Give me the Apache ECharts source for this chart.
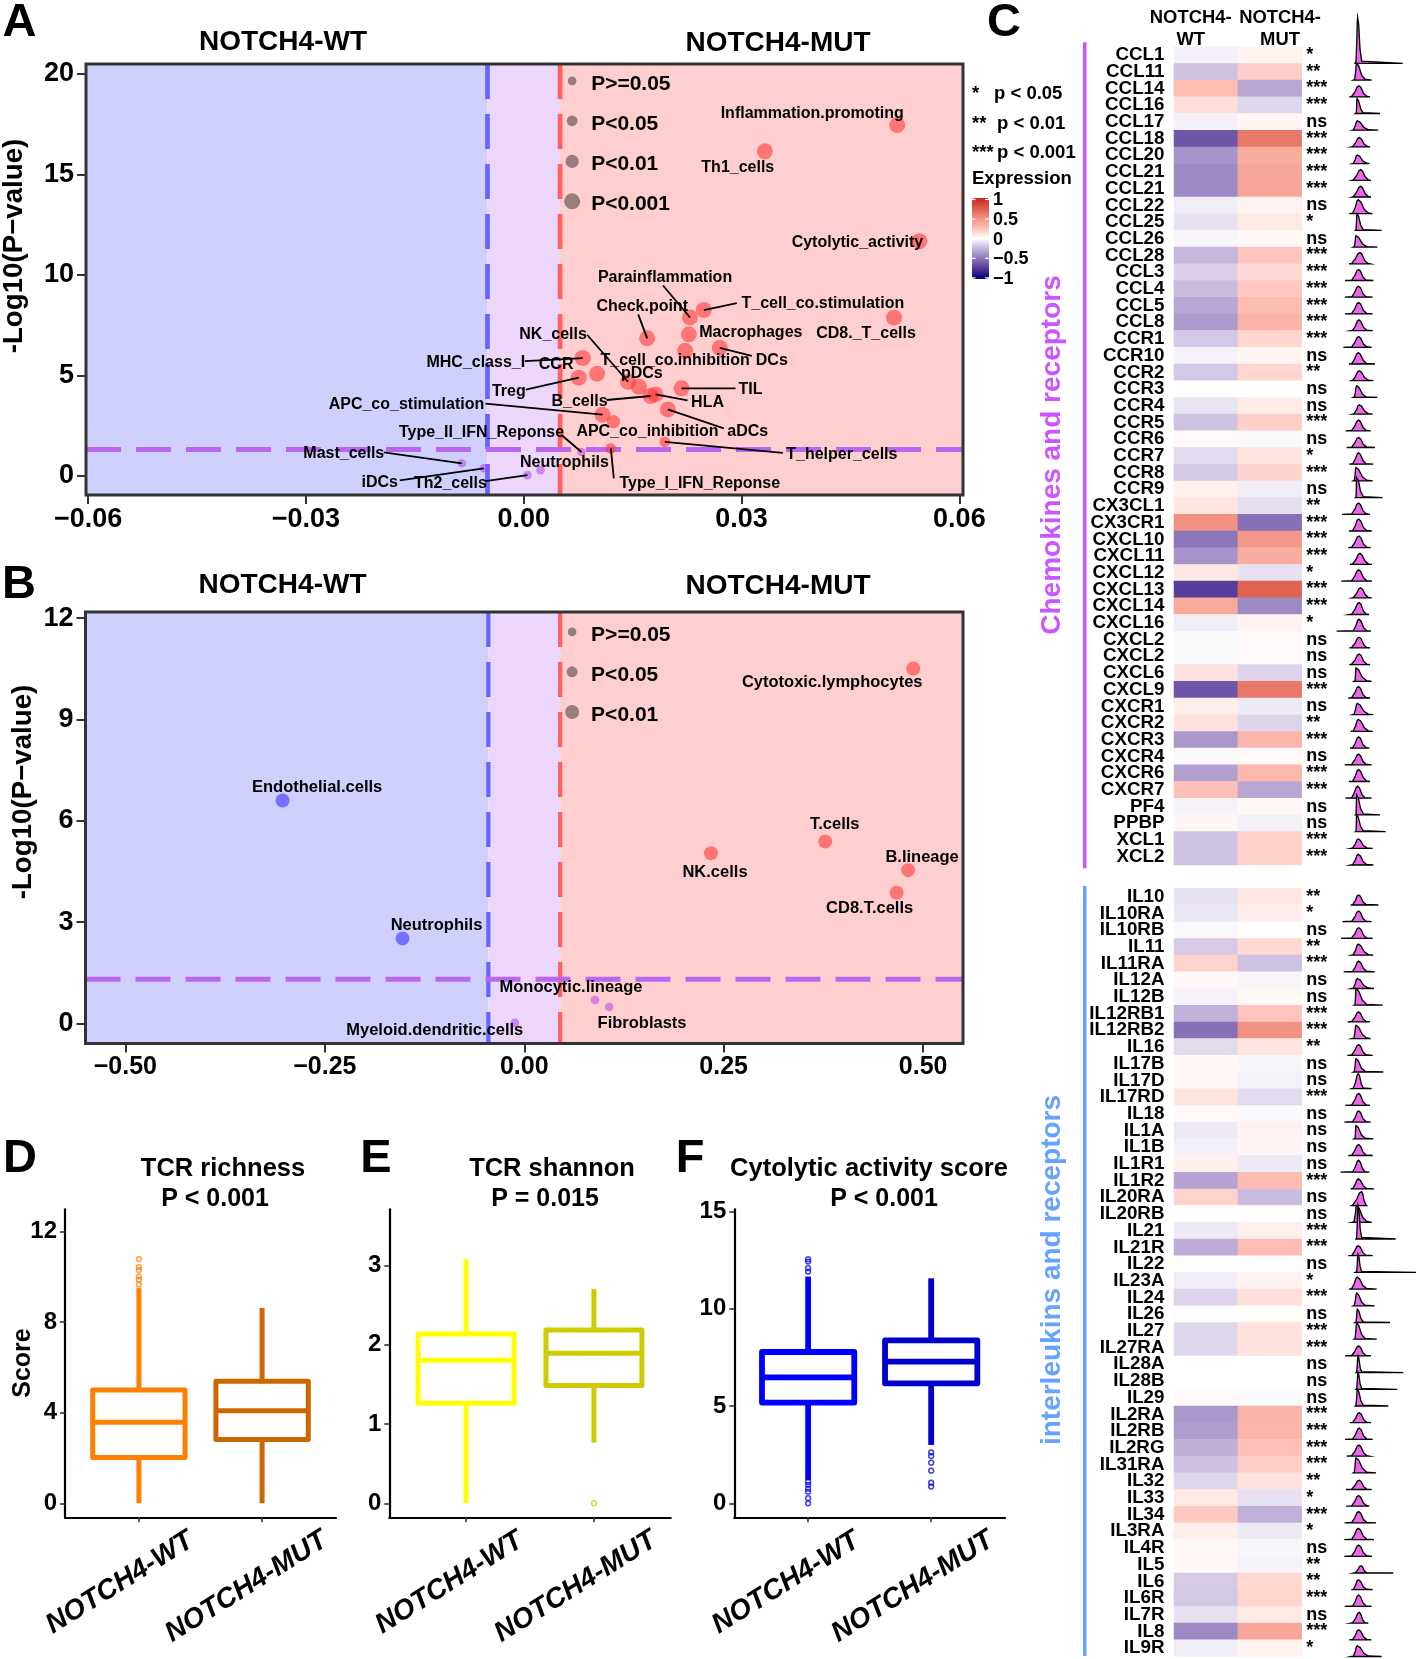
<!DOCTYPE html>
<html><head><meta charset="utf-8">
<style>html,body{margin:0;padding:0;background:#fff}#c{width:1418px;height:1659px}</style>
<script src="https://cdn.jsdelivr.net/npm/echarts@6/dist/echarts.min.js"></script>
</head><body><div id="c"></div>
<script>
// ---------- Panel A ----------
const namesA=['Inflammation.promoting','Th1_cells','Cytolytic_activity','T_cell_co.stimulation','Parainflammation','CD8._T_cells','Macrophages','Check.point','T_cell_co.inhibition','DCs','MHC_class_I','CCR','Treg','NK_cells','pDCs','TIL','HLA','B_cells','aDCs','APC_co_stimulation','APC_co_inhibition','T_helper_cells','Type_I_IFN_Reponse','Type_II_IFN_Reponse','Neutrophils','Th2_cells','Mast_cells','iDCs'];
const xA=[0.05144,0.0332,0.0545,0.0248,0.0229,0.0510,0.02274,0.0170,0.02223,0.0270,0.00813,0.0101,0.00758,0.01437,0.01585,0.02173,0.01815,0.01746,0.01984,0.01084,0.01236,0.01943,0.01199,0.00795,0.0023,0.0005,-0.00854,-0.00551];
const yA=[17.46,16.15,11.68,8.25,7.88,7.87,7.04,6.84,6.22,6.37,5.86,5.08,4.88,4.68,4.43,4.35,4.05,3.97,3.3,3.04,2.69,1.69,1.36,1.18,0.28,0.03,0.62,0.37];
const legendNamesA=['P>=0.05','P<0.05','P<0.01','P<0.001'];
const legendYA=[19.66,17.67,15.65,13.66];
const legendXA=0.00666;
// ---------- Panel B ----------
const namesB=['Cytotoxic.lymphocytes','Endothelial.cells','T.cells','NK.cells','B.lineage','CD8.T.cells','Neutrophils','Monocytic.lineage','Fibroblasts','Myeloid.dendritic.cells'];
const xB=[0.4876,-0.3029,0.3773,0.2341,0.4812,0.4668,-0.1526,0.0887,0.1063,-0.0119];
const yB=[10.51,6.60,5.39,5.04,4.54,3.87,2.52,0.70,0.49,0.02];
const legendNamesB=['P>=0.05','P<0.05','P<0.01'];
const legendYB=[11.59,10.41,9.22];
const legendXB=0.06;
// ---------- Panel C ----------
const genesChem=['CCL1','CCL11','CCL14','CCL16','CCL17','CCL18','CCL20','CCL21','CCL21','CCL22','CCL25','CCL26','CCL28','CCL3','CCL4','CCL5','CCL8','CCR1','CCR10','CCR2','CCR3','CCR4','CCR5','CCR6','CCR7','CCR8','CCR9','CX3CL1','CX3CR1','CXCL10','CXCL11','CXCL12','CXCL13','CXCL14','CXCL16','CXCL2','CXCL2','CXCL6','CXCL9','CXCR1','CXCR2','CXCR3','CXCR4','CXCR6','CXCR7','PF4','PPBP','XCL1','XCL2'];
const wtChem=[-.05,-.2,.27,.13,-.05,-.62,-.38,-.42,-.42,-.06,-.1,-.03,-.24,-.15,-.22,-.3,-.35,-.18,-.04,-.18,0,-.09,-.2,.02,-.12,-.18,.06,.11,.5,-.5,-.38,.1,-.72,.38,-.06,-.02,-.02,.12,-.62,.07,.12,-.36,-.02,-.33,.26,-.04,.04,-.2,-.2];
const mutChem=[.05,.2,-.3,-.13,.04,.62,.36,.4,.4,.05,.09,.03,.24,.15,.22,.28,.33,.17,.04,.17,0,.08,.2,-.02,.11,.18,-.06,-.11,-.52,.47,.36,-.1,.72,-.42,.05,.02,.02,-.14,.62,-.07,-.14,.32,.02,.3,-.3,.03,-.05,.19,.19];
const sigChem=['*','**','***','***','ns','***','***','***','***','ns','*','ns','***','***','***','***','***','***','ns','**','ns','ns','***','ns','*','***','ns','**','***','***','***','*','***','***','*','ns','ns','ns','***','ns','**','***','ns','***','***','ns','ns','***','***'];
const genesIL=['IL10','IL10RA','IL10RB','IL11','IL11RA','IL12A','IL12B','IL12RB1','IL12RB2','IL16','IL17B','IL17D','IL17RD','IL18','IL1A','IL1B','IL1R1','IL1R2','IL20RA','IL20RB','IL21','IL21R','IL22','IL23A','IL24','IL26','IL27','IL27RA','IL28A','IL28B','IL29','IL2RA','IL2RB','IL2RG','IL31RA','IL32','IL33','IL34','IL3RA','IL4R','IL5','IL6','IL6R','IL7R','IL8','IL9R'];
const wtIL=[-.1,-.08,-.02,-.17,.18,.03,-.04,-.26,-.52,-.12,.03,.03,.11,.02,-.07,-.05,.06,-.31,.18,0,-.07,-.28,.01,-.06,-.14,-.01,-.13,-.13,0,0,.02,-.36,-.34,-.27,-.21,-.13,.09,.22,.07,.03,.03,-.17,-.18,-.1,-.42,-.06];
const mutIL=[.1,.07,.01,.16,-.2,-.03,.03,.24,.5,.11,-.03,-.04,-.12,-.02,.05,.04,-.07,.28,-.22,0,.06,.27,-.01,.05,.13,.01,.12,.12,0,0,-.02,.33,.32,.26,.2,.12,-.1,-.26,-.07,-.03,-.04,.16,.17,.09,.4,.05];
const sigIL=['**','*','ns','**','***','ns','ns','***','***','**','ns','ns','***','ns','ns','ns','ns','***','ns','ns','***','***','ns','*','***','ns','***','***','ns','ns','ns','***','***','***','***','**','*','***','*','ns','**','**','***','ns','***','*'];
// ridge outline per gene: left tail, rise, peak, fall, right tail, height
const ridgeChem=[[1065,1068,1073,1085,1208,138],[1060,1064,1070,1095,1115,50],[1048,1055,1077,1100,1110,33],[1066,1069,1071,1090,1140,45],[1057,1060,1072,1105,1135,28],[1054,1058,1078,1102,1110,28],[1057,1060,1072,1100,1108,26],[1056,1060,1082,1105,1113,32],[1056,1060,1082,1105,1113,32],[1048,1058,1075,1105,1117,42],[1066,1068,1071,1090,1145,50],[1060,1063,1068,1100,1132,34],[1047,1055,1080,1103,1110,34],[1035,1055,1076,1098,1120,33],[1035,1055,1076,1098,1118,33],[1035,1055,1076,1100,1118,34],[1052,1058,1077,1100,1118,32],[1030,1055,1076,1100,1115,32],[1047,1055,1075,1100,1125,34],[1049,1058,1078,1105,1120,30],[1060,1063,1070,1098,1132,35],[1058,1062,1078,1105,1118,28],[1037,1055,1076,1098,1112,32],[1040,1055,1076,1100,1125,30],[1048,1058,1076,1098,1120,34],[1060,1063,1068,1100,1118,40],[1066,1068,1070,1090,1148,60],[1026,1055,1076,1098,1110,34],[1047,1058,1076,1100,1115,36],[1045,1055,1077,1100,1112,35],[1050,1058,1080,1105,1116,33],[1024,1055,1076,1100,1116,34],[1056,1060,1082,1105,1115,30],[1048,1055,1078,1098,1107,36],[1010,1060,1077,1100,1113,36],[1048,1055,1078,1100,1110,32],[1048,1055,1078,1100,1110,32],[1062,1065,1068,1100,1115,40],[1045,1055,1076,1098,1110,34],[1058,1062,1072,1105,1120,34],[1052,1060,1075,1105,1118,36],[1050,1058,1076,1098,1108,34],[1034,1055,1076,1098,1115,32],[1047,1058,1076,1100,1110,36],[1036,1055,1073,1095,1115,36],[1066,1068,1070,1090,1140,60],[1066,1068,1070,1090,1157,50],[1053,1058,1075,1100,1118,28],[1052,1058,1075,1100,1120,32]];
const ridgeIL=[[1052,1058,1076,1098,1135,30],[1027,1055,1076,1098,1115,32],[1023,1055,1077,1100,1118,32],[1055,1060,1075,1105,1120,33],[1031,1058,1076,1100,1124,32],[1055,1060,1072,1105,1122,30],[1062,1065,1068,1100,1148,50],[1043,1055,1076,1098,1110,30],[1056,1062,1068,1100,1112,40],[1042,1055,1076,1098,1118,32],[1060,1063,1068,1095,1150,40],[1055,1060,1075,1090,1115,45],[1036,1055,1076,1098,1110,36],[1033,1058,1076,1098,1112,34],[1062,1065,1068,1095,1120,40],[1045,1055,1076,1098,1118,33],[1022,1058,1076,1095,1108,36],[1052,1058,1075,1100,1122,30],[1055,1058,1085,1098,1100,42],[1055,1062,1070,1100,1115,50],[1068,1070,1074,1085,1187,100],[1045,1055,1075,1098,1118,30],[1066,1070,1074,1085,1248,55],[1047,1055,1072,1100,1130,36],[1060,1063,1070,1095,1124,38],[1065,1068,1072,1090,1170,40],[1062,1065,1070,1095,1130,48],[1035,1055,1076,1098,1113,30],[1068,1070,1074,1085,1210,50],[1068,1070,1074,1085,1192,50],[1066,1068,1072,1090,1165,50],[1050,1058,1078,1100,1113,30],[1035,1058,1078,1100,1118,34],[1040,1055,1077,1100,1108,33],[1060,1063,1068,1100,1128,45],[1038,1055,1078,1100,1115,28],[1038,1055,1076,1100,1108,32],[1034,1055,1076,1100,1128,34],[1033,1055,1075,1100,1122,34],[1033,1055,1076,1100,1116,34],[1062,1066,1083,1100,1180,22],[1054,1060,1075,1100,1118,30],[1034,1058,1076,1098,1115,34],[1052,1058,1078,1095,1105,32],[1048,1058,1076,1100,1114,30],[1054,1060,1072,1105,1145,32]];
const colLabels=['NOTCH4-WT','NOTCH4-MUT'];
const legendTicks=[1,0.5,0,-0.5,-1];
// ---------- Panels D-F: [low, Q1, median, Q3, high] ----------
const boxGroups=[1,2];
const statsD=[[0,2.02,3.58,5.0,9.5],[0,2.81,4.09,5.39,8.62]];
const outD=[[1,10.78],[1,10.43],[1,10.3],[1,10.01],[1,9.87],[1,9.65]];
const statsE=[[0,1.262,1.805,2.137,3.08],[0.766,1.485,1.893,2.188,2.705]];
const outE=[[2,0]];
const statsF=[[1.2,5.18,6.48,7.78,11.66],[3.0,6.17,7.29,8.38,11.57]];
const outF=[[1,12.55],[1,12.43],[1,12.09],[1,11.91],[1,1.1],[1,0.95],[1,0.75],[1,0.6],[1,0.26],[1,0],[2,2.62],[2,2.43],[2,2.09],[2,1.68],[2,1.06],[2,0.86]];

// ---------- annotation layout: pixel offsets from each point ----------
const textOffA=[[-85,-12],[-27,15],[-62,0],[119,-7],[-25,-41],[-28,15],[62,-3],[-5,-33],[-10,9],[52,12],[-107,4],[-41,-10],[-70,13],[-75,-48],[3,-14],[69,0],[52,7],[-71,5],[80,21],[-196,-11],[34,9],[177,12],[89,34],[-100,-20],[24,-9],[-77,7],[-118,-11],[-104,13]];
const leaderA=[null,null,null,[33,-7],[-27,-32],null,null,[-9,-24],null,[32,8],[-58,3],null,[-53,12],[-41,-47],null,[54,0],[32,6],[-44,4],[56,19],[-117,-11],null,[118,11],[3,30],[-20,-17],null,[-42,6],[-78,-11],[-84,12]];
const textOffB=[[-81,13],[34.5,-14],[9.5,-18],[4,18],[14,-13.5],[-27,15],[34,-13.5],[-24,-13.5],[33,15],[-80,7]];

const FF='"Liberation Sans",Arial,sans-serif';
const font=(s,i)=>`${i?'italic ':''}bold ${s}px ${FF}`;
const series=[],grids=[],xAxes=[],yAxes=[],gfx=[];
const T=(text,x,y,size,o={})=>gfx.push({type:'text',x,y,rotation:o.rot||0,z:50,silent:true,style:{text,font:font(size,o.italic),fill:o.fill||'#000',align:o.align||'center',verticalAlign:'middle'}});
const BLUE='rgba(50,50,255,.74)',RED='rgba(255,55,55,.74)',PUR='rgba(180,60,235,.66)';

function addVolcano(cfg){
  const g=grids.length,yi=yAxes.length,xi=xAxes.length;
  grids.push({left:cfg.left,top:cfg.top,width:cfg.w,height:cfg.h,show:false});
  xAxes.push({gridIndex:g,type:'value',min:cfg.xr[0],max:cfg.xr[1],splitLine:{show:false},
    axisLine:{show:false,onZero:false},axisTick:{show:true,length:9,lineStyle:{width:2,color:'#333'},customValues:cfg.xt},
    axisLabel:{customValues:cfg.xt,margin:11,fontFamily:FF,fontWeight:'bold',fontSize:cfg.xfs,color:'#000',hideOverlap:false,showMinLabel:true,showMaxLabel:true,
      formatter:v=>(v<0?'\u2212':'')+Math.abs(v).toFixed(cfg.xd)}});
  yAxes.push({gridIndex:g,type:'value',min:cfg.yr[0],max:cfg.yr[1],splitLine:{show:false},
    axisLine:{show:false,onZero:false},axisTick:{show:true,length:9,lineStyle:{width:2,color:'#333'},customValues:cfg.yt},
    axisLabel:{customValues:cfg.yt,margin:12,padding:[3,0,0,0],fontFamily:FF,fontWeight:'bold',fontSize:27,color:'#000',showMinLabel:true,showMaxLabel:true}});
  const [x0,x1]=cfg.xr,[y0,y1]=cfg.yr,t=cfg.thr;
  const base={xAxisIndex:xi,yAxisIndex:yi,silent:true,animation:false};
  series.push({...base,type:'scatter',data:[],z:1,markArea:{silent:true,itemStyle:{opacity:1},data:[
    [{coord:[x0,y0],itemStyle:{color:'#D0D0FE'}},{coord:[-t,y1]}],
    [{coord:[-t,y0],itemStyle:{color:'#ECD6FB'}},{coord:[t,y1]}],
    [{coord:[t,y0],itemStyle:{color:'#FFCFCF'}},{coord:[x1,y1]}]]}});
  const thr=(d,c,w)=>series.push({...base,type:'line',z:5,data:d,showSymbol:false,symbol:'none',lineStyle:{color:c,width:w,type:[35,15],cap:'butt'}});
  thr([[-t,y1],[-t,y0]],'#6666FF',cfg.lw);
  thr([[t,y1],[t,y0]],'#FF6060',cfg.lw);
  thr([[x0,cfg.hl],[x1,cfg.hl]],'#BB66EE',5);
  const pts=cfg.names.map((n,i)=>[cfg.xs[i],cfg.ys[i]]);
  const sizeOf=y=>y<1.3?cfg.sz[0]:y<2?cfg.sz[1]:y<3||cfg.sz.length<4?cfg.sz[2]:cfg.sz[3];
  series.push({...base,type:'scatter',z:6,data:pts,symbolSize:v=>sizeOf(v[1]),
    itemStyle:{color:p=>p.value[1]<1.3?PUR:(p.value[0]<0?BLUE:RED)}});
  const legPts=cfg.legY.map(y=>[cfg.legX,y]);
  series.push({...base,type:'scatter',z:6,data:legPts,
    symbolSize:(v,p)=>cfg.sz[p.dataIndex],itemStyle:{color:'rgba(0,0,0,.5)'}});
  series.push({...base,type:'custom',z:7,clip:false,data:legPts,renderItem:(params,api)=>{
    const p=api.coord([api.value(0),api.value(1)]);
    return {type:'text',x:p[0]+19,y:p[1]+3,style:{text:cfg.legN[params.dataIndex],font:font(21),fill:'#000',align:'left',verticalAlign:'middle'}};
  }});
  series.push({...base,type:'custom',z:7,clip:false,data:pts,renderItem:(params,api)=>{
    const i=params.dataIndex,p=api.coord([api.value(0),api.value(1)]),kids=[];
    const L=cfg.leader&&cfg.leader[i];
    if(L)kids.push({type:'line',shape:{x1:p[0],y1:p[1],x2:p[0]+L[0],y2:p[1]+L[1]},style:{stroke:'#000',lineWidth:1.8}});
    const o=cfg.off[i];
    kids.push({type:'text',x:p[0]+o[0],y:p[1]+o[1]+1,style:{text:cfg.names[i],font:font(cfg.fs),fill:'#000',align:'center',verticalAlign:'middle'}});
    return {type:'group',children:kids};
  }});
  gfx.push({type:'rect',z:40,silent:true,shape:{x:cfg.left,y:cfg.top,width:cfg.w,height:cfg.h},style:{fill:'none',stroke:'#333',lineWidth:3}});
}
addVolcano({left:86,top:64,w:877,h:431,xr:[-0.0603,0.0605],yr:[-0.96,20.5],xt:[-0.06,-0.03,0,0.03,0.06],yt:[0,5,10,15,20],xd:2,xfs:27,thr:0.005,hl:1.3,lw:4.7,
  names:namesA,xs:xA,ys:yA,legX:legendXA,legY:legendYA,legN:legendNamesA,sz:[8.7,10.7,13.3,16],off:textOffA,leader:leaderA,fs:16});
addVolcano({left:85.5,top:612,w:877.5,h:431.5,xr:[-0.55,0.55],yr:[-0.59,12.18],xt:[-0.5,-0.25,0,0.25,0.5],yt:[0,3,6,9,12],xd:2,xfs:25,thr:0.045,hl:1.31,lw:4.2,
  names:namesB,xs:xB,ys:yB,legX:legendXB,legY:legendYB,legN:legendNamesB,sz:[8.7,11,14],off:textOffB,leader:null,fs:16.5});

// ---- heat + ridge ----
const heatIdx=[];
function addHeat(top,h,genes,wt,mut,sig,ridge){
  const g=grids.length,xi=xAxes.length,y0=yAxes.length;
  grids.push({left:1174,top,width:127.7,height:h,show:false});
  xAxes.push({gridIndex:g,type:'category',data:colLabels,show:false});
  yAxes.push({gridIndex:g,type:'category',data:genes,inverse:true,axisLine:{show:false},axisTick:{show:false},splitLine:{show:false},
    axisLabel:{interval:0,margin:9.5,padding:[4,0,0,0],fontFamily:FF,fontWeight:'bold',fontSize:18.8,color:'#000'}});
  yAxes.push({gridIndex:g,type:'category',position:'right',data:sig,inverse:true,axisLine:{show:false},axisTick:{show:false},splitLine:{show:false},
    axisLabel:{interval:0,margin:4.5,padding:[3,0,0,0],fontFamily:FF,fontWeight:'bold',fontSize:18,color:'#000'}});
  const d=[];genes.forEach((n,i)=>{d.push([0,i,wt[i]]);d.push([1,i,mut[i]]);});
  heatIdx.push(series.length);
  series.push({type:'heatmap',xAxisIndex:xi,yAxisIndex:y0,data:d,silent:true,animation:false,progressive:0});
  const r=grids.length,xr=xAxes.length,y2=yAxes.length;
  grids.push({left:1000,top,width:418,height:h,show:false});
  xAxes.push({gridIndex:r,type:'value',min:0,max:1254,show:false});
  yAxes.push({gridIndex:r,type:'category',data:genes,inverse:true,show:false});
  series.push({type:'custom',xAxisIndex:xr,yAxisIndex:y2,clip:false,silent:true,animation:false,
    data:ridge.map((a,i)=>[a[0],i,a[1],a[2],a[3],a[4],a[5]]),
    encode:{x:0,y:1},
    renderItem:(params,api)=>{
      const i=params.dataIndex,v=k=>api.value(k);
      const band=api.size([0,1])[1];
      const base=api.coord([0,i])[1]+band/2;
      const X=u=>api.coord([u,i])[0];
      const hp=api.size([v(6),0])[0];
      const L=v(0),R1=v(2),P=v(3),F=v(4),E=v(5);
      const up=R1+.45*(P-R1),up2=R1+.75*(P-R1),dn=P+.25*(F-P),dn2=P+.6*(F-P);
      const pts=[[X(L),base],[X(R1),base-.04*hp],[X(up),base-.45*hp],[X(up2),base-.9*hp],[X(P),base-hp],[X(dn),base-.85*hp],[X(dn2),base-.3*hp],[X(F),base-.05*hp],[X(E),base]];
      return {type:'polygon',shape:{points:pts},style:{fill:'#EE66EE',stroke:'#000',lineWidth:1.3}};
    }});
}
addHeat(46.7,818.3,genesChem,wtChem,mutChem,sigChem,ridgeChem);
addHeat(888.3,768.2,genesIL,wtIL,mutIL,sigIL,ridgeIL);

// ---- boxes ----
function addBox(cfg){
  const g=grids.length,xi=xAxes.length,yi=yAxes.length;
  grids.push({left:cfg.left,top:1209.3,width:cfg.w,height:308,show:false});
  xAxes.push({gridIndex:g,type:'value',min:0.4,max:2.6,splitLine:{show:false},
    axisLine:{show:true,onZero:false,lineStyle:{color:'#000',width:2.2}},
    axisTick:{show:true,length:5,lineStyle:{color:'#333',width:1.6},customValues:boxGroups},
    axisLabel:{show:false}});
  yAxes.push({gridIndex:g,type:'value',min:cfg.yr[0],max:cfg.yr[1],splitLine:{show:false},
    axisLine:{show:true,onZero:false,lineStyle:{color:'#000',width:2.2}},
    axisTick:{show:true,length:5,lineStyle:{color:'#333',width:1.6},customValues:cfg.yt},
    axisLabel:{customValues:cfg.yt,margin:8,padding:[3,0,0,0],fontFamily:FF,fontWeight:'bold',fontSize:24,color:'#000',showMinLabel:true,showMaxLabel:true}});
  series.push({type:'custom',xAxisIndex:xi,yAxisIndex:yi,silent:true,animation:false,clip:false,
    data:cfg.stats.map((s,i)=>[boxGroups[i],...s]),encode:{x:0,y:[1,2,3,4,5]},
    renderItem:(params,api)=>{
      const x=api.value(0),lo=api.value(1),q1=api.value(2),m=api.value(3),q3=api.value(4),hi=api.value(5);
      const c=cfg.cols[params.dataIndex],hw=0.375;
      const st={stroke:c,lineWidth:cfg.lw,fill:'none',lineCap:'butt'};
      const P=(a,b)=>api.coord([a,b]);
      const ln=(a,b)=>({type:'line',shape:{x1:a[0],y1:a[1],x2:b[0],y2:b[1]},style:st});
      const tl=P(x-hw,q3),br=P(x+hw,q1);
      return {type:'group',children:[ln(P(x,lo),P(x,q1)),ln(P(x,q3),P(x,hi)),
        {type:'rect',shape:{x:tl[0],y:tl[1],width:br[0]-tl[0],height:br[1]-tl[1]},style:{stroke:c,lineWidth:cfg.lw,fill:'#fff',lineJoin:'round'}},
        ln(P(x-hw,m),P(x+hw,m))]};
    }});
  series.push({type:'scatter',xAxisIndex:xi,yAxisIndex:yi,silent:true,animation:false,symbolSize:4.8,
    data:cfg.out.map(o=>({value:o,itemStyle:{borderColor:cfg.cols[o[0]-1]}})),
    itemStyle:{color:'rgba(255,255,255,0)',borderWidth:1.5,opacity:.75}});
  T(cfg.title,cfg.titleX,1168.5,25.5);
  T(cfg.p,cfg.pX,1199.3,25);
  colLabels.forEach((l,i)=>T(l,cfg.lx[i],i?1587:1583,28,{rot:32*Math.PI/180,italic:true}));
}
addBox({left:65,w:271,lw:5,yr:[-0.62,12.98],yt:[0,4,8,12],stats:statsD,out:outD,cols:['#FF8000','#CC6600'],title:'TCR richness',titleX:223,p:'P < 0.001',pX:215,lx:[120,246.5]});
addBox({left:389.3,w:281.4,lw:5,yr:[-0.177,3.71],yt:[0,1,2,3],stats:statsE,out:outE,cols:['#FFFF00','#CCCC00'],title:'TCR shannon',titleX:552,p:'P = 0.015',pX:545,lx:[449.4,575.7]});
addBox({left:734.3,w:270.7,lw:5.8,yr:[-0.72,15.12],yt:[0,5,10,15],stats:statsF,out:outF,cols:['#0000FF','#0000CC'],title:'Cytolytic activity score',titleX:869,p:'P < 0.001',pX:884,lx:[786,912.7]});

// ---- free text ----
[['A',19.5,23],['B',19,585],['C',1004,23],['D',20,1159],['E',376,1159],['F',690,1159]].forEach(a=>T(a[0],a[1],a[2],47));
T('NOTCH4-WT',283,42,28);T('NOTCH4-MUT',778,43,28);
T('NOTCH4-WT',282.5,585,28);T('NOTCH4-MUT',778,586,28);
T('-Log10(P\u2212value)',14.5,246,27.7,{rot:Math.PI/2});
T('-Log10(P\u2212value)',23,792,27.7,{rot:Math.PI/2});
T('Score',22.7,1363,25,{rot:Math.PI/2});
T('NOTCH4-',1190.7,17.7,18.4);T('WT',1190.7,40.3,18.4);T('NOTCH4-',1280,17.7,18.4);T('MUT',1280,40.3,18.4);
T('Chemokines and receptors',1052,455,28,{rot:Math.PI/2,fill:'#CC55FF'});
T('interleukins and receptors',1052,1270,28,{rot:Math.PI/2,fill:'#66A3FF'});
[['*','p < 0.05',994,94],['**','p < 0.01',997,124],['***','p < 0.001',997,152.7]].forEach(r=>{
  T(r[0],972,r[3],18.5,{align:'left'});T(r[1],r[2],r[3],18.5,{align:'left'});});
T('Expression',972,178.7,18.5,{align:'left'});
legendTicks.forEach((t,i)=>{
  const y=199.5+i*19.6;
  T(t<0?'\u2212'+(-t):String(t),993,y+1,18,{align:'left'});
  [[972,975.5],[985,989]].forEach(s=>gfx.push({type:'line',z:45,silent:true,shape:{x1:s[0],y1:y,x2:s[1],y2:y},style:{stroke:'#fff',lineWidth:1.2}}));
});
gfx.push({type:'rect',z:30,silent:true,shape:{x:1083,y:42.3,width:3.5,height:826},style:{fill:'#CC55FF'}});
gfx.push({type:'rect',z:30,silent:true,shape:{x:1083,y:886,width:3.5,height:770},style:{fill:'#66A3FF'}});

const chart=echarts.init(document.getElementById('c'),null,{renderer:'canvas'});
chart.setOption({animation:false,backgroundColor:'#fff',grid:grids,xAxis:xAxes,yAxis:yAxes,series,graphic:gfx,
  visualMap:{type:'continuous',min:-1,max:1,seriesIndex:heatIdx,calculable:false,hoverLink:false,text:null,showLabel:false,
    left:972,top:198,itemWidth:17,itemHeight:81,padding:0,realtime:false,
    inRange:{color:['#00007F','#4F3596','#8C76B9','#C2B3DB','#FFFFFF','#FFC2B8','#F29283','#DD5C4C','#CC2222']}}});
</script></body></html>
